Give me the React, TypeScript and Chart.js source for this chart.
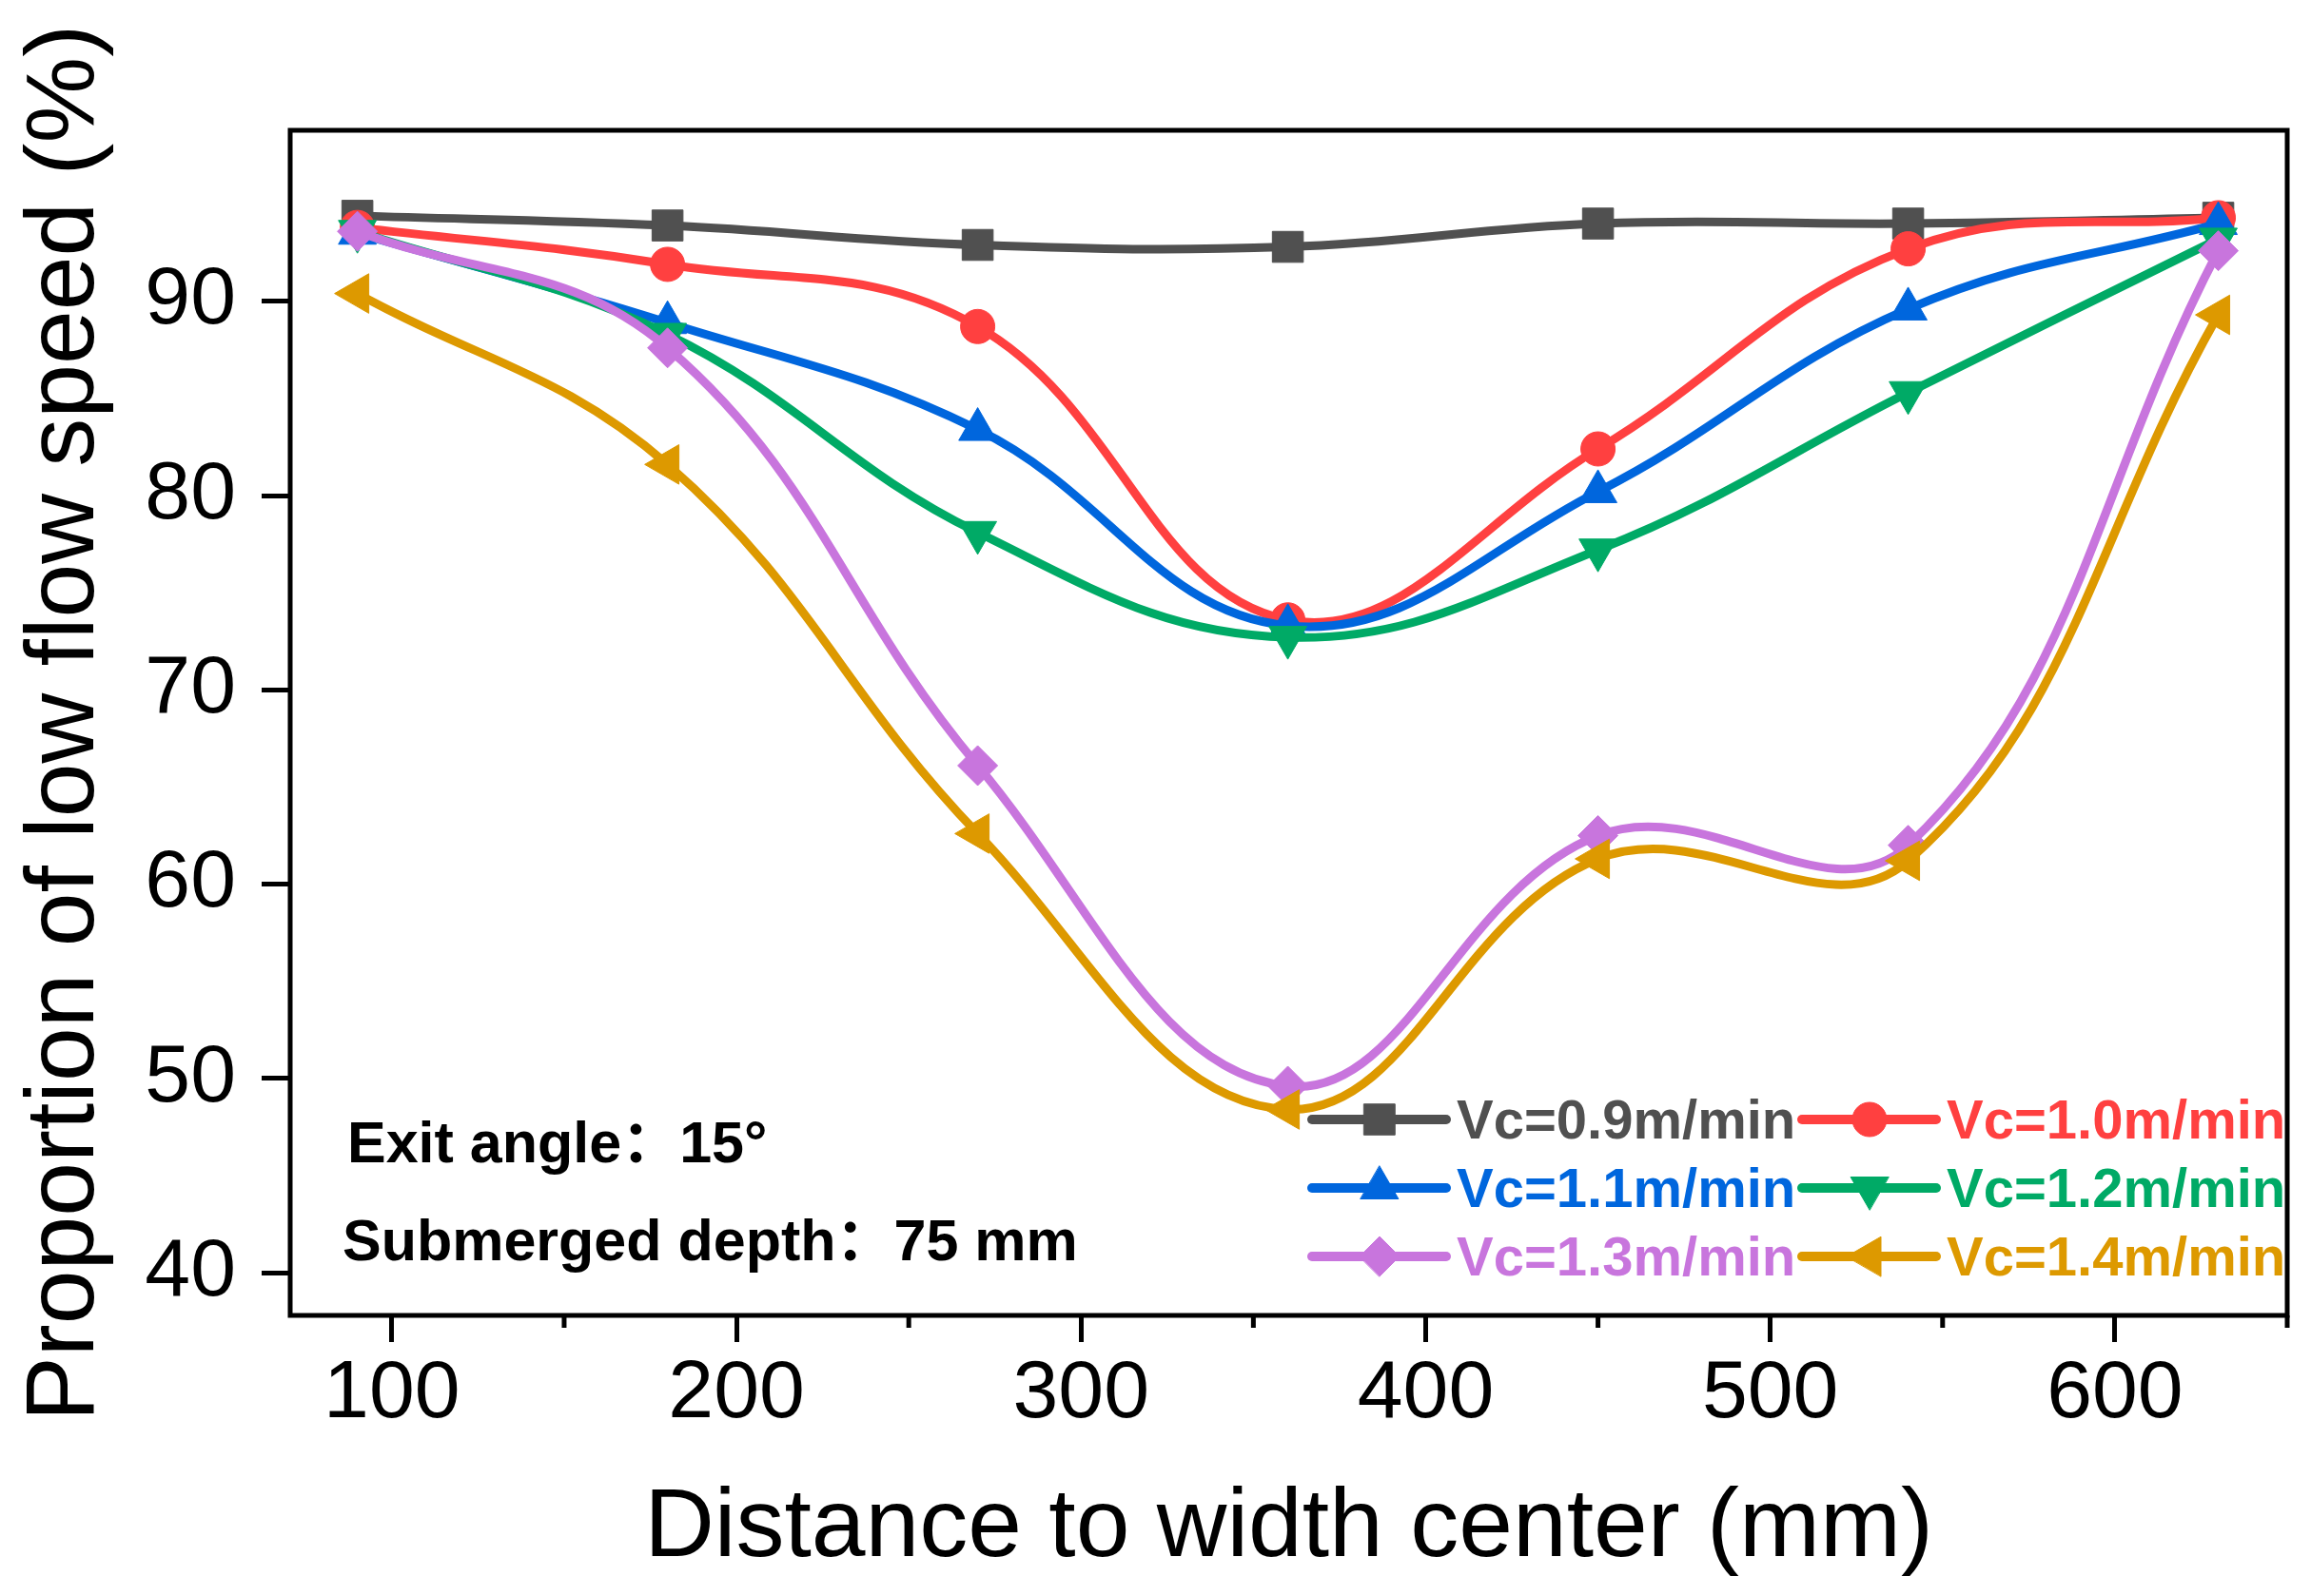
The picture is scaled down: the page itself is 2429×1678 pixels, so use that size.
import React, { useEffect, useRef } from 'react';
import { Chart, registerables } from 'chart.js';
import { drawPoint } from 'chart.js/helpers';

Chart.register(...registerables);

const FONT = '"Liberation Sans", Arial, "Noto Sans CJK SC", sans-serif';

// Distance to width center (mm)
const DISTANCE = [90, 180, 270, 360, 450, 540, 630];

// Proportion of low flow speed (%) per casting speed
const VC_09 = [94.4, 93.9, 92.9, 92.8, 94.0, 94.0, 94.3];
const VC_10 = [93.8, 91.9, 88.7, 73.6, 82.4, 92.7, 94.3];
const VC_11 = [93.5, 88.9, 83.4, 73.3, 80.2, 89.6, 94.0];
const VC_12 = [93.6, 88.3, 78.1, 72.7, 77.2, 85.3, 93.2];
const VC_13 = [93.6, 87.6, 66.1, 49.6, 62.5, 62.0, 92.6];
const VC_14 = [90.4, 81.6, 62.6, 48.4, 61.3, 61.2, 89.3];

const SERIES_NAMES = [
  'Vc=0.9m/min',
  'Vc=1.0m/min',
  'Vc=1.1m/min',
  'Vc=1.2m/min',
  'Vc=1.3m/min',
  'Vc=1.4m/min'
];
const SERIES_VALUES = [VC_09, VC_10, VC_11, VC_12, VC_13, VC_14];

const X_TICKS = [100, 200, 300, 400, 500, 600];
const X_MINOR_TICKS = [150, 250, 350, 450, 550, 650];
const Y_TICKS = [40, 50, 60, 70, 80, 90];

const X_TITLE = 'Distance to width center (mm)';
const Y_TITLE = 'Proportion of low flow speed (%)';
const NOTES = ['Exit angle：15°', 'Submerged depth：75 mm'];

// marker look per series
const STYLES = [
  { color: '#505050', pointStyle: 'rect', radius: 23, rotation: 0 },
  { color: '#FF4040', pointStyle: 'circle', radius: 18, rotation: 0 },
  { color: '#0066DD', pointStyle: 'triangle', radius: 23, rotation: 0 },
  { color: '#00AA66', pointStyle: 'triangle', radius: 23, rotation: 180 },
  { color: '#C875DD', pointStyle: 'rectRot', radius: 21, rotation: 0 },
  { color: '#DD9900', pointStyle: 'triangle', radius: 24, rotation: -90 }
];

// frame, minor ticks, notes, legend and the y title
const decorPlugin = {
  id: 'decor',
  afterDatasetsDraw(chart: any) {
    const { ctx, chartArea: ca, scales } = chart;
    ctx.save();

    ctx.strokeStyle = '#000';
    ctx.lineWidth = 5;
    ctx.strokeRect(ca.left, ca.top, ca.right - ca.left, ca.bottom - ca.top);

    X_MINOR_TICKS.forEach((v) => {
      const x = scales.x.getPixelForValue(v);
      ctx.beginPath();
      ctx.moveTo(x, ca.bottom);
      ctx.lineTo(x, ca.bottom + 13);
      ctx.stroke();
    });

    ctx.fillStyle = '#000';
    ctx.font = `bold 61px ${FONT}`;
    ctx.textAlign = 'left';
    ctx.textBaseline = 'alphabetic';
    ctx.fillText(NOTES[0], ca.left + 60, ca.bottom - 161);
    ctx.fillText(NOTES[1], ca.left + 55, ca.bottom - 58);

    // legend, two columns
    chart.data.datasets.forEach((ds: any, i: number) => {
      const st = STYLES[i];
      const x0 = ca.right - 1025 + (i % 2) * 515;
      const y = ca.bottom - 206 + Math.floor(i / 2) * 72;
      ctx.strokeStyle = st.color;
      ctx.fillStyle = st.color;
      ctx.lineWidth = 10;
      ctx.lineCap = 'round';
      ctx.beginPath();
      ctx.moveTo(x0, y);
      ctx.lineTo(x0 + 141, y);
      ctx.stroke();
      ctx.lineWidth = 1;
      drawPoint(ctx, { pointStyle: st.pointStyle, rotation: st.rotation, radius: st.radius, borderWidth: 1 } as any, x0 + 71, y);
      ctx.font = `bold 58px ${FONT}`;
      ctx.fillText(ds.label, x0 + 152, y + 20);
    });

    ctx.fillStyle = '#000';
    ctx.font = `102px ${FONT}`;
    ctx.textAlign = 'center';
    ctx.translate(98, (ca.top + ca.bottom) / 2);
    ctx.rotate(-Math.PI / 2);
    ctx.fillText(Y_TITLE, 0, 0);

    ctx.restore();
  }
};

const App: React.FC = () => {
  const canvasRef = useRef<HTMLCanvasElement>(null);
  const chartRef = useRef<Chart | null>(null);

  useEffect(() => {
    const ctx = canvasRef.current?.getContext('2d');
    if (!ctx) return;
    if (chartRef.current) chartRef.current.destroy();

    chartRef.current = new Chart(ctx, {
      type: 'line',
      data: {
        datasets: SERIES_VALUES.map((vals, i) => ({
          label: SERIES_NAMES[i],
          data: vals.map((y, k) => ({ x: DISTANCE[k], y })),
          borderColor: STYLES[i].color,
          backgroundColor: STYLES[i].color,
          borderWidth: 9,
          tension: 0.4,
          fill: false,
          pointStyle: STYLES[i].pointStyle as any,
          pointRotation: STYLES[i].rotation,
          pointRadius: STYLES[i].radius,
          pointBackgroundColor: STYLES[i].color,
          pointBorderColor: STYLES[i].color,
          pointBorderWidth: 1,
          order: SERIES_VALUES.length - 1 - i
        }))
      },
      options: {
        responsive: false,
        animation: false,
        events: [],
        layout: { padding: { top: 137, right: 12, left: 0, bottom: 0 } },
        plugins: {
          legend: { display: false },
          tooltip: { enabled: false }
        },
        scales: {
          x: {
            type: 'linear',
            min: 70.5,
            max: 650,
            afterBuildTicks: (scale: any) => {
              scale.ticks = X_TICKS.map((v) => ({ value: v }));
            },
            afterFit: (scale: any) => {
              scale.height = 295;
            },
            ticks: {
              autoSkip: false,
              maxRotation: 0,
              padding: 4,
              color: '#000',
              font: { family: FONT, size: 86 }
            },
            grid: {
              drawOnChartArea: false,
              drawTicks: true,
              tickLength: 28,
              tickWidth: 5,
              tickColor: '#000'
            },
            border: { display: false },
            title: {
              display: true,
              text: X_TITLE,
              color: '#000',
              font: { family: FONT, size: 102 },
              padding: { top: 0, bottom: 9 }
            }
          },
          y: {
            type: 'linear',
            min: 37.8,
            max: 98.8,
            afterBuildTicks: (scale: any) => {
              scale.ticks = Y_TICKS.map((v) => ({ value: v }));
            },
            afterFit: (scale: any) => {
              scale.width = 305;
            },
            ticks: {
              autoSkip: false,
              padding: 27,
              color: '#000',
              font: { family: FONT, size: 86 }
            },
            grid: {
              drawOnChartArea: false,
              drawTicks: true,
              tickLength: 30,
              tickWidth: 5,
              tickColor: '#000'
            },
            border: { display: false }
          }
        }
      },
      plugins: [decorPlugin]
    });

    return () => {
      if (chartRef.current) {
        chartRef.current.destroy();
        chartRef.current = null;
      }
    };
  }, []);

  return (
    <div
      style={{
        position: 'fixed',
        left: 0,
        top: 0,
        width: 2429,
        height: 1678,
        background: '#fff'
      }}
    >
      <canvas
        ref={canvasRef}
        width={2429}
        height={1678}
        style={{ display: 'block', width: 2429, height: 1678 }}
      />
    </div>
  );
};

export default App;
